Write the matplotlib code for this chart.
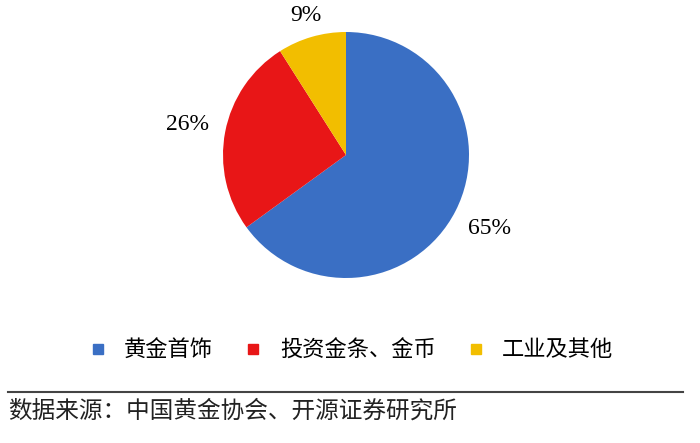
import matplotlib
matplotlib.use('Agg')
import numpy as np
import matplotlib.pyplot as plt
from matplotlib.lines import Line2D

# 数据
labels = ['黄金首饰', '投资金条、金币', '工业及其他']
shares = [65, 26, 9]
colors = ['#3A6FC4', '#E81617', '#F2BE00']
source = '数据来源：中国黄金协会、开源证券研究所'

plt.rcParams['font.family'] = ['Noto Sans CJK SC', 'DejaVu Sans']

W, H = 700, 443
fig = plt.figure(figsize=(W / 100, H / 100), dpi=100)

# 饼图区域：圆心(346,155)，半径约123像素
cx, cy, r = 346, 155, 123
ax = fig.add_axes([(cx - r) / W, (H - cy - r) / H, 2 * r / W, 2 * r / H])
wedges, _ = ax.pie(shares, colors=colors, startangle=90, counterclock=False,
                   radius=1.0)
ax.set_xlim(-1, 1)
ax.set_ylim(-1, 1)

# 百分比标签
dists = [1.31, 1.31, 1.18]
for w, v, d in zip(wedges, shares, dists):
    ang = np.deg2rad((w.theta1 + w.theta2) / 2)
    ax.text(d * np.cos(ang), d * np.sin(ang), f'{v}%', ha='center', va='center',
            fontsize=17, family=['Liberation Serif'], clip_on=False)

# 图例
handles = [Line2D([], [], marker='s', linestyle='none', markersize=7.5,
                  markerfacecolor=c, markeredgecolor=c) for c in colors]
fig.legend(handles, labels, loc='center', bbox_to_anchor=(0.5, 1 - 350 / H),
           ncol=3, frameon=False, fontsize=16, handletextpad=0.7,
           columnspacing=1.3, handlelength=1.0)

# 分隔线与数据来源
fig.add_artist(Line2D([8 / W, 683 / W], [1 - 392 / H, 1 - 392 / H],
                      color='#444444', lw=1.5))
fig.text(8 / W, 1 - 411 / H, source, ha='left', va='center', fontsize=17,
         color='#222222')

fig.savefig('out.png', dpi=100)
